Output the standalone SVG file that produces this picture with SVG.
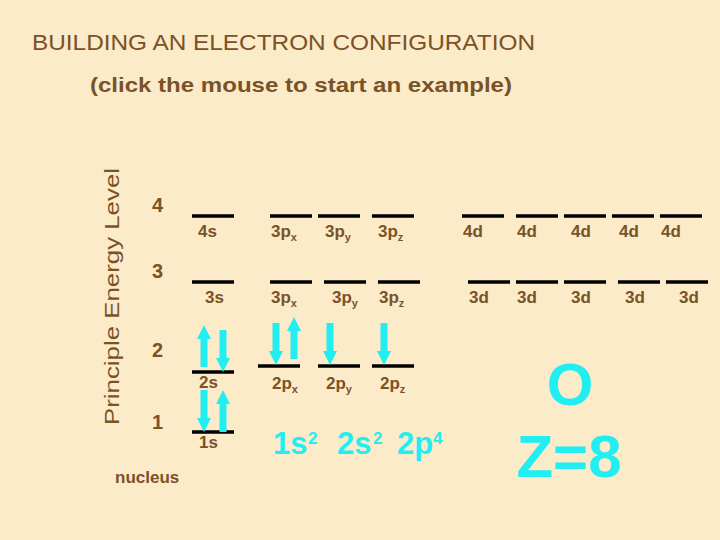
<svg xmlns="http://www.w3.org/2000/svg" width="720" height="540" viewBox="0 0 720 540">
<defs>
<style>
.b{fill:#7a5228;font-family:"Liberation Sans",Arial,sans-serif}
.t{font-size:22px}
.n{font-size:20px;font-weight:bold}
.l{font-size:17px;font-weight:bold}
.s{font-size:11px}
.c{fill:#22eef2;font-family:"Liberation Sans",Arial,sans-serif;font-weight:bold}
.o{stroke:#000;stroke-width:3.5}
.a{fill:#22eef2}
</style>
<path id="up" d="M0,0 L7,14 L3.5,14 L3.5,42 L-3.5,42 L-3.5,14 L-7,14 Z"/>
<path id="dn" d="M0,0 L7,-14 L3.5,-14 L3.5,-42 L-3.5,-42 L-3.5,-14 L-7,-14 Z"/>
</defs>
<rect width="720" height="540" fill="#fcebc9"/>
<g id="title">
<text class="b t" x="32" y="50" textLength="503" lengthAdjust="spacingAndGlyphs">BUILDING AN ELECTRON CONFIGURATION</text>
<text class="b" x="90" y="92" font-size="21" font-weight="bold" textLength="422" lengthAdjust="spacingAndGlyphs">(click the mouse to start an example)</text>
</g>
<g id="axis">
<text class="b" font-size="20" transform="translate(119,425) rotate(-90)" textLength="257" lengthAdjust="spacingAndGlyphs">Principle Energy Level</text>
<text class="b n" x="152" y="212">4</text>
<text class="b n" x="152" y="278">3</text>
<text class="b n" x="152" y="357">2</text>
<text class="b n" x="152" y="429">1</text>
<text class="b" x="115" y="483" font-size="17" font-weight="bold">nucleus</text>
</g>
<g id="level4">
<line class="o" x1="192" y1="216" x2="234" y2="216"/>
<line class="o" x1="270" y1="216" x2="312" y2="216"/>
<line class="o" x1="318" y1="216" x2="360" y2="216"/>
<line class="o" x1="372" y1="216" x2="414" y2="216"/>
<line class="o" x1="462" y1="216" x2="504" y2="216"/>
<line class="o" x1="516" y1="216" x2="558" y2="216"/>
<line class="o" x1="564" y1="216" x2="606" y2="216"/>
<line class="o" x1="612" y1="216" x2="654" y2="216"/>
<line class="o" x1="660" y1="216" x2="702" y2="216"/>
<text class="b l" x="198" y="237">4s</text>
<text class="b l" x="271" y="237">3p<tspan class="s" dy="4">x</tspan></text>
<text class="b l" x="325" y="237">3p<tspan class="s" dy="4">y</tspan></text>
<text class="b l" x="378" y="237">3p<tspan class="s" dy="4">z</tspan></text>
<text class="b l" x="463" y="237">4d</text>
<text class="b l" x="517" y="237">4d</text>
<text class="b l" x="571" y="237">4d</text>
<text class="b l" x="619" y="237">4d</text>
<text class="b l" x="661" y="237">4d</text>
</g>
<g id="level3">
<line class="o" x1="192" y1="282" x2="234" y2="282"/>
<line class="o" x1="270" y1="282" x2="312" y2="282"/>
<line class="o" x1="324" y1="282" x2="366" y2="282"/>
<line class="o" x1="378" y1="282" x2="420" y2="282"/>
<line class="o" x1="468" y1="282" x2="510" y2="282"/>
<line class="o" x1="516" y1="282" x2="558" y2="282"/>
<line class="o" x1="564" y1="282" x2="606" y2="282"/>
<line class="o" x1="618" y1="282" x2="660" y2="282"/>
<line class="o" x1="666" y1="282" x2="708" y2="282"/>
<text class="b l" x="205" y="303">3s</text>
<text class="b l" x="271" y="303">3p<tspan class="s" dy="4">x</tspan></text>
<text class="b l" x="332" y="303">3p<tspan class="s" dy="4">y</tspan></text>
<text class="b l" x="379" y="303">3p<tspan class="s" dy="4">z</tspan></text>
<text class="b l" x="469" y="303">3d</text>
<text class="b l" x="517" y="303">3d</text>
<text class="b l" x="571" y="303">3d</text>
<text class="b l" x="625" y="303">3d</text>
<text class="b l" x="679" y="303">3d</text>
</g>
<g id="level2">
<line class="o" x1="192" y1="372" x2="234" y2="372"/>
<line class="o" x1="258" y1="366" x2="300" y2="366"/>
<line class="o" x1="318" y1="366" x2="360" y2="366"/>
<line class="o" x1="372" y1="366" x2="414" y2="366"/>
<text class="b l" x="199" y="388">2s</text>
<text class="b l" x="272" y="389">2p<tspan class="s" dy="4">x</tspan></text>
<text class="b l" x="326" y="389">2p<tspan class="s" dy="4">y</tspan></text>
<text class="b l" x="380" y="389">2p<tspan class="s" dy="4">z</tspan></text>
</g>
<g id="level1">
<line class="o" x1="192" y1="432" x2="234" y2="432"/>
<text class="b l" x="199" y="448">1s</text>
</g>
<g id="electrons" class="a">
<use href="#up" x="204" y="325"/>
<use href="#dn" x="223" y="372"/>
<use href="#dn" x="204" y="432"/>
<use href="#up" x="223" y="390"/>
<use href="#dn" x="276" y="365"/>
<use href="#up" x="294" y="317"/>
<use href="#dn" x="330" y="365"/>
<use href="#dn" x="384" y="365"/>
</g>
<g id="config">
<text class="c" font-size="31" x="273" y="454">1s</text>
<text class="c" font-size="17" x="308" y="444">2</text>
<text class="c" font-size="31" x="337" y="454">2s</text>
<text class="c" font-size="17" x="373" y="444">2</text>
<text class="c" font-size="31" x="397" y="454">2p</text>
<text class="c" font-size="17" x="433" y="444">4</text>
</g>
<g id="element">
<text class="c" font-size="60" x="570" y="405" text-anchor="middle">O</text>
<text class="c" font-size="60" x="569" y="477" text-anchor="middle">Z=8</text>
</g>
</svg>
